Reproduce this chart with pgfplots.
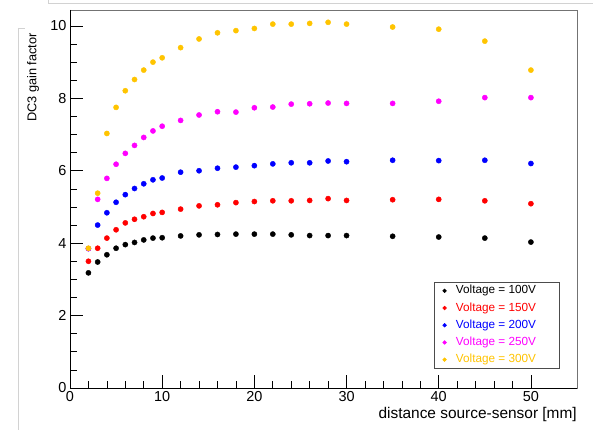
\documentclass[border=0pt]{standalone}
\usepackage{fontspec}
\setmainfont{Liberation Sans}
\usepackage{pgfplots}
\pgfplotsset{compat=1.18}
\definecolor{rootorange}{RGB}{255,196,0}
\definecolor{rootmag}{RGB}{255,0,255}
\definecolor{rootblue}{RGB}{0,0,255}
\definecolor{rootred}{RGB}{255,0,0}
\begin{document}
\begin{tikzpicture}
\path[use as bounding box] (-70bp,-42bp) rectangle (523bp,388bp);
\draw[gray!35, line width=0.8bp] (-52bp,360bp) -- (-52bp,-42bp);
\draw[gray!35, line width=0.8bp] (-52bp,360bp) -- (-45bp,360bp);
\draw[gray!35, line width=0.8bp] (-22bp,388bp) -- (-22bp,385bp) -- (523bp,385bp);
\begin{axis}[
  at={(0,0)}, anchor=south west,
  scale only axis, width=507bp, height=378bp,
  xmin=0, xmax=55, ymin=0, ymax=10.44,
  xtick={0,10,...,50}, ytick={0,2,...,10},
  minor x tick num=4, minor y tick num=3,
  tick align=inside, xtick pos=bottom, ytick pos=left,
  major tick length=13bp, minor tick length=7bp,
  axis line style={draw=black!55, line width=0.8bp},
  every tick/.style={black, line width=0.6bp},
  tick label style={font=\fontsize{14.5}{16}\selectfont},
  /pgf/number format/assume math mode=true,
  xlabel={distance source-sensor [mm]},
  ylabel={DC3 gain factor},
  xlabel style={font=\fontsize{15.5}{17}\selectfont, at={(axis description cs:1,-0.071)}, anchor=east, inner sep=0pt},
  ylabel style={font=\fontsize{12.8}{14}\selectfont, at={(axis description cs:-0.073,0.939)}, anchor=east, inner sep=0pt},
  legend style={at={(axis description cs:0.9665,0.052)}, anchor=south east,
    draw=black!70, line width=0.6bp, fill=white,
    font=\fontsize{11.8}{13}\selectfont,
    inner xsep=8.8bp, inner ysep=2.4bp, row sep=5.2bp,
    nodes={inner sep=0pt, text height=9bp, text depth=3bp},
    /tikz/every odd column/.append style={column sep=9.5bp}},
  legend image post style={mark size=1.8bp},
  legend cell align=left,
  only marks, mark=*, mark size=2.6bp,
  after end axis/.code={\draw[black, line width=0.8bp] (rel axis cs:0,1) -- (rel axis cs:0,0) -- (rel axis cs:1,0);},
]
\addplot[black, mark=*, mark options={fill=black}] coordinates {
(2,3.18) (3,3.48) (4,3.68) (5,3.86) (6,3.96) (7,4.02) (8,4.09) (9,4.14) (10,4.15) (12,4.20) (14,4.23) (16,4.24) (18,4.25) (20,4.25) (22,4.25) (24,4.23) (26,4.21) (28,4.21) (30,4.21) (35,4.19) (40,4.17) (45,4.14) (50,4.03)};
\addlegendentry{\makebox[95bp][l]{\textcolor{black}{Voltage = 100V}}}
\addplot[rootred, mark=*, mark options={fill=rootred}] coordinates {
(2,3.50) (3,3.86) (4,4.14) (5,4.37) (6,4.56) (7,4.66) (8,4.73) (9,4.82) (10,4.85) (12,4.94) (14,5.03) (16,5.06) (18,5.12) (20,5.15) (22,5.17) (24,5.17) (26,5.18) (28,5.23) (30,5.18) (35,5.20) (40,5.21) (45,5.17) (50,5.09)};
\addlegendentry{\makebox[95bp][l]{\textcolor{rootred}{Voltage = 150V}}}
\addplot[rootblue, mark=*, mark options={fill=rootblue}] coordinates {
(2,3.85) (3,4.50) (4,4.84) (5,5.13) (6,5.34) (7,5.51) (8,5.64) (9,5.75) (10,5.80) (12,5.96) (14,6.00) (16,6.07) (18,6.10) (20,6.14) (22,6.19) (24,6.22) (26,6.22) (28,6.27) (30,6.25) (35,6.29) (40,6.28) (45,6.29) (50,6.20)};
\addlegendentry{\makebox[95bp][l]{\textcolor{rootblue}{Voltage = 200V}}}
\addplot[rootmag, mark=*, mark options={fill=rootmag}] coordinates {
(2,3.85) (3,5.21) (4,5.79) (5,6.18) (6,6.48) (7,6.70) (8,6.92) (9,7.10) (10,7.23) (12,7.39) (14,7.54) (16,7.63) (18,7.62) (20,7.74) (22,7.76) (24,7.84) (26,7.85) (28,7.87) (30,7.86) (35,7.86) (40,7.92) (45,8.02) (50,8.02)};
\addlegendentry{\makebox[95bp][l]{\textcolor{rootmag}{Voltage = 250V}}}
\addplot[rootorange, mark=*, mark options={fill=rootorange}] coordinates {
(2,3.86) (3,5.38) (4,7.03) (5,7.75) (6,8.21) (7,8.52) (8,8.78) (9,9.00) (10,9.12) (12,9.40) (14,9.64) (16,9.81) (18,9.87) (20,9.93) (22,10.05) (24,10.05) (26,10.07) (28,10.10) (30,10.05) (35,9.97) (40,9.91) (45,9.58) (50,8.78)};
\addlegendentry{\makebox[95bp][l]{\textcolor{rootorange}{Voltage = 300V}}}
\end{axis}
\end{tikzpicture}
\end{document}
